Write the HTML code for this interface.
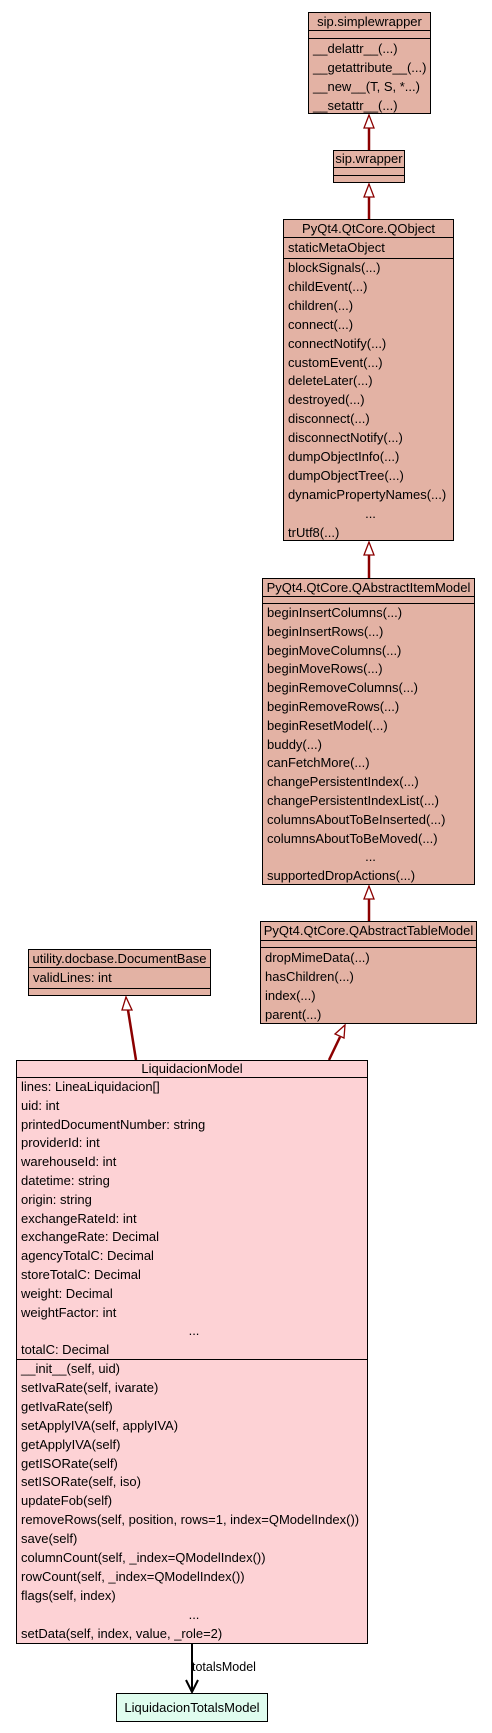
<!DOCTYPE html>
<html><head><meta charset="utf-8"><style>
body{margin:0;width:492px;height:1733px;background:#fff;position:relative;font-family:"Liberation Sans",Arial,sans-serif;font-size:13px;color:#000;overflow:hidden}
.b{position:absolute;border:1px solid #000;background:#e3b2a4;box-sizing:border-box}
.t{text-align:center;white-space:nowrap;border-bottom:1px solid #000;box-sizing:border-box;overflow:hidden}
.s{border-bottom:1px solid #000;box-sizing:border-box}
.r{white-space:nowrap;padding-left:4px;box-sizing:border-box}
.c{text-align:center}
svg{position:absolute;left:0;top:0}
</style></head><body>
<svg width="492" height="1733">
<g stroke="#8b0000" stroke-width="2.5" fill="#fff">
<line x1="369" y1="150" x2="369" y2="128"/><polygon points="369,115 364,128 374,128" stroke-width="1.3"/>
<line x1="369" y1="219" x2="369" y2="197"/><polygon points="369,184 364,197 374,197" stroke-width="1.3"/>
<line x1="369" y1="578" x2="369" y2="555"/><polygon points="369,542 364,555 374,555" stroke-width="1.3"/>
<line x1="369" y1="921" x2="369" y2="899"/><polygon points="369,886 364,899 374,899" stroke-width="1.3"/>
<line x1="136" y1="1060" x2="128" y2="1010"/><polygon points="126,997 122,1010 132,1010" stroke-width="1.3"/>
<line x1="329" y1="1060" x2="340" y2="1037"/><polygon points="345,1025 335,1034 344,1038" stroke-width="1.3"/>
</g>
<line x1="192" y1="1643" x2="192" y2="1692" stroke="#000" stroke-width="2"/>
<polyline points="186,1680 192,1692 198,1680" fill="none" stroke="#000" stroke-width="2"/>
<text x="192" y="1671" font-family="Liberation Sans, sans-serif" font-size="12.5">totalsModel</text>
</svg>

<div class="b" style="left:308px;top:12px;width:123px;height:102px">
<div class="t" style="height:18px;line-height:17px">sip.simplewrapper</div>
<div class="s" style="height:8px"></div>
<div style="line-height:19px"><div class="r">__delattr__(...)</div><div class="r">__getattribute__(...)</div><div class="r">__new__(T, S, *...)</div><div class="r">__setattr__(...)</div></div>
</div>

<div class="b" style="left:333px;top:150px;width:72px;height:33px">
<div class="t" style="height:17px;line-height:16px">sip.wrapper</div>
<div class="s" style="height:8px"></div>
</div>

<div class="b" style="left:283px;top:219px;width:171px;height:322px">
<div class="t" style="height:18px;line-height:17px">PyQt4.QtCore.QObject</div>
<div class="s" style="height:21px;line-height:20px"><div class="r">staticMetaObject</div></div>
<div style="line-height:18.9px">
<div class="r">blockSignals(...)</div><div class="r">childEvent(...)</div><div class="r">children(...)</div><div class="r">connect(...)</div><div class="r">connectNotify(...)</div><div class="r">customEvent(...)</div><div class="r">deleteLater(...)</div><div class="r">destroyed(...)</div><div class="r">disconnect(...)</div><div class="r">disconnectNotify(...)</div><div class="r">dumpObjectInfo(...)</div><div class="r">dumpObjectTree(...)</div><div class="r">dynamicPropertyNames(...)</div><div class="r c">...</div><div class="r">trUtf8(...)</div>
</div></div>

<div class="b" style="left:262px;top:578px;width:213px;height:307px">
<div class="t" style="height:18px;line-height:17px">PyQt4.QtCore.QAbstractItemModel</div>
<div class="s" style="height:7px"></div>
<div style="line-height:18.8px">
<div class="r">beginInsertColumns(...)</div><div class="r">beginInsertRows(...)</div><div class="r">beginMoveColumns(...)</div><div class="r">beginMoveRows(...)</div><div class="r">beginRemoveColumns(...)</div><div class="r">beginRemoveRows(...)</div><div class="r">beginResetModel(...)</div><div class="r">buddy(...)</div><div class="r">canFetchMore(...)</div><div class="r">changePersistentIndex(...)</div><div class="r">changePersistentIndexList(...)</div><div class="r">columnsAboutToBeInserted(...)</div><div class="r">columnsAboutToBeMoved(...)</div><div class="r c">...</div><div class="r">supportedDropActions(...)</div>
</div></div>

<div class="b" style="left:260px;top:921px;width:217px;height:103px">
<div class="t" style="height:19px;line-height:18px">PyQt4.QtCore.QAbstractTableModel</div>
<div class="s" style="height:7px"></div>
<div style="line-height:19px"><div class="r">dropMimeData(...)</div><div class="r">hasChildren(...)</div><div class="r">index(...)</div><div class="r">parent(...)</div></div>
</div>

<div class="b" style="left:28px;top:949px;width:183px;height:47px">
<div class="t" style="height:18px;line-height:17px">utility.docbase.DocumentBase</div>
<div class="s" style="height:21px;line-height:20px"><div class="r">validLines: int</div></div>
</div>

<div class="b" style="left:16px;top:1060px;width:352px;height:584px;background:#fdd2d5">
<div class="t" style="height:17px;line-height:16px">LiquidacionModel</div>
<div class="s" style="height:282px;line-height:18.8px">
<div class="r">lines: LineaLiquidacion[]</div><div class="r">uid: int</div><div class="r">printedDocumentNumber: string</div><div class="r">providerId: int</div><div class="r">warehouseId: int</div><div class="r">datetime: string</div><div class="r">origin: string</div><div class="r">exchangeRateId: int</div><div class="r">exchangeRate: Decimal</div><div class="r">agencyTotalC: Decimal</div><div class="r">storeTotalC: Decimal</div><div class="r">weight: Decimal</div><div class="r">weightFactor: int</div><div class="r c">...</div><div class="r">totalC: Decimal</div>
</div>
<div style="line-height:18.9px">
<div class="r">__init__(self, uid)</div><div class="r">setIvaRate(self, ivarate)</div><div class="r">getIvaRate(self)</div><div class="r">setApplyIVA(self, applyIVA)</div><div class="r">getApplyIVA(self)</div><div class="r">getISORate(self)</div><div class="r">setISORate(self, iso)</div><div class="r">updateFob(self)</div><div class="r">removeRows(self, position, rows=1, index=QModelIndex())</div><div class="r">save(self)</div><div class="r">columnCount(self, _index=QModelIndex())</div><div class="r">rowCount(self, _index=QModelIndex())</div><div class="r">flags(self, index)</div><div class="r c">...</div><div class="r">setData(self, index, value, _role=2)</div>
</div></div>

<div class="b" style="left:116px;top:1693px;width:152px;height:29px;background:#dffcee;text-align:center;line-height:27px">LiquidacionTotalsModel</div>
</body></html>
